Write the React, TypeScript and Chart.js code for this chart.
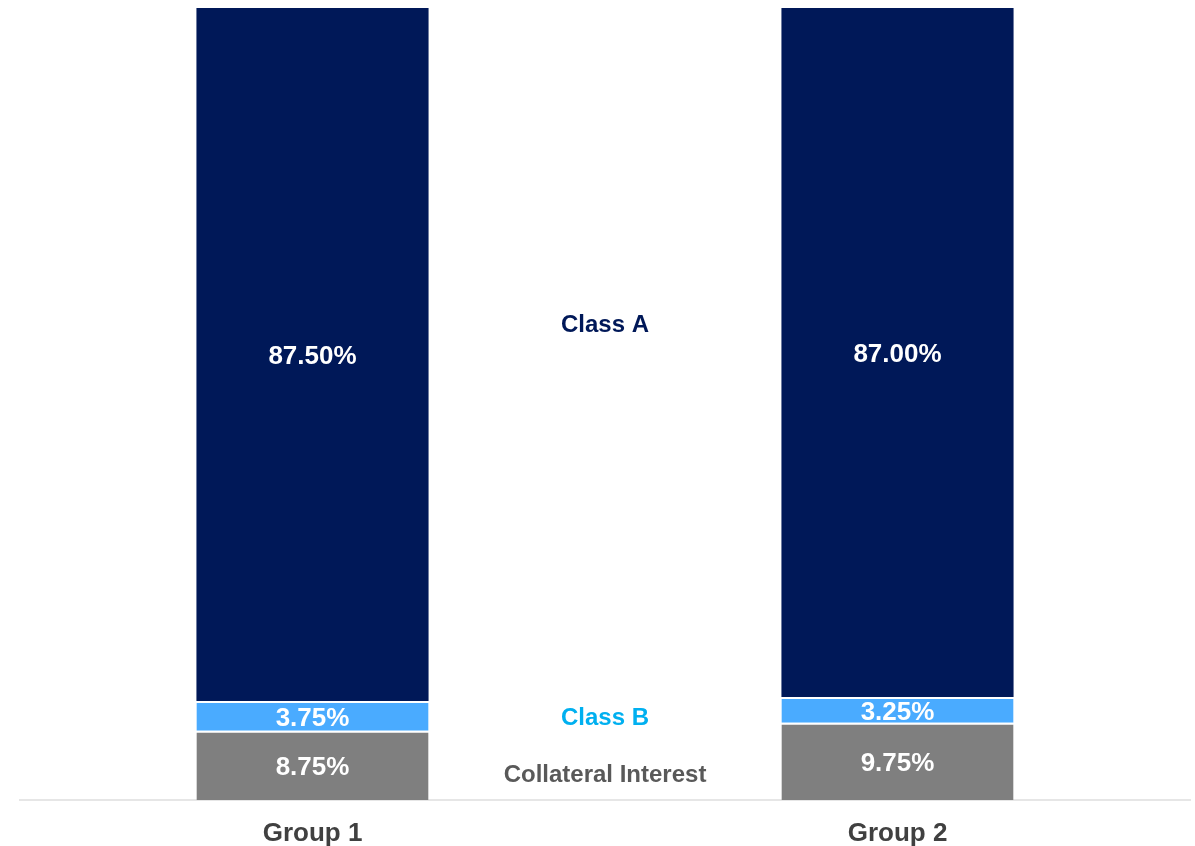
import React, { useEffect, useRef } from "react";
import { Chart, registerables } from "chart.js";

Chart.register(...registerables);

const categories = ["Group 1", "Group 2"];
const collateralValues = [8.75, 9.75];
const classBValues = [3.75, 3.25];
const classAValues = [87.5, 87.0];
const seriesNames = ["Collateral Interest", "Class B", "Class A"];
const seriesColors = ["#7f7f7f", "#4aabff", "#001858"];
const sideLabelColors = ["#595959", "#00b0f0", "#001858"];
const sideLabelY = [3.15, 10.35, 59.95];

const FONT = "'Liberation Sans', Arial, sans-serif";

const valueLabelPlugin = {
  id: "valueLabels",
  afterDatasetsDraw(chart: any) {
    const ctx = chart.ctx;
    ctx.save();
    ctx.font = `bold 26px ${FONT}`;
    ctx.fillStyle = "#ffffff";
    ctx.textAlign = "center";
    ctx.textBaseline = "middle";
    chart.data.datasets.forEach((ds: any, di: number) => {
      const meta = chart.getDatasetMeta(di);
      meta.data.forEach((bar: any, i: number) => {
        const v = ds.data[i];
        const yc = (bar.y + bar.base) / 2 + 2.5;
        ctx.fillText(v.toFixed(2) + "%", bar.x, yc);
      });
    });
    const area = chart.chartArea;
    const xc = (area.left + area.right) / 2;
    const yScale = chart.scales.y;
    ctx.font = `bold 24px ${FONT}`;
    seriesNames.forEach((n, i) => {
      ctx.fillStyle = sideLabelColors[i];
      ctx.fillText(n, xc, yScale.getPixelForValue(sideLabelY[i]));
    });
    ctx.restore();
  },
};

export default function App() {
  const ref = useRef<HTMLCanvasElement>(null);
  useEffect(() => {
    document.body.style.margin = "0";
    const data = [collateralValues, classBValues, classAValues];
    const chart = new Chart(ref.current!, {
      type: "bar",
      data: {
        labels: categories,
        datasets: seriesNames.map((n, i) => ({
          label: n,
          data: data[i],
          backgroundColor: seriesColors[i],
          borderColor: "#ffffff",
          borderWidth: i === 2 ? 0 : { top: 2, left: 0, right: 0, bottom: 0 },
          borderSkipped: false,
          barPercentage: 0.8,
          categoryPercentage: 0.496,
        })),
      },
      options: {
        animation: false,
        responsive: false,
        maintainAspectRatio: false,
        layout: { padding: { left: 20, right: 5, top: 8, bottom: 0 } },
        plugins: { legend: { display: false }, tooltip: { enabled: false } },
        scales: {
          x: {
            stacked: true,
            grid: { display: false, drawTicks: false },
            border: { display: true, color: "#e6e6e6", width: 2 },
            ticks: {
              color: "#404040",
              font: { family: FONT, size: 26, weight: "bold" },
              padding: 18,
            },
            afterFit(scale: any) {
              scale.height = 46;
            },
          },
          y: {
            stacked: true,
            display: false,
            min: 0,
            max: 100,
          },
        },
      },
      plugins: [valueLabelPlugin],
    } as any);
    return () => chart.destroy();
  }, []);
  return (
    <div style={{ width: 1195, height: 846 }}>
      <canvas ref={ref} width={1195} height={846} style={{ display: "block" }} />
    </div>
  );
}
